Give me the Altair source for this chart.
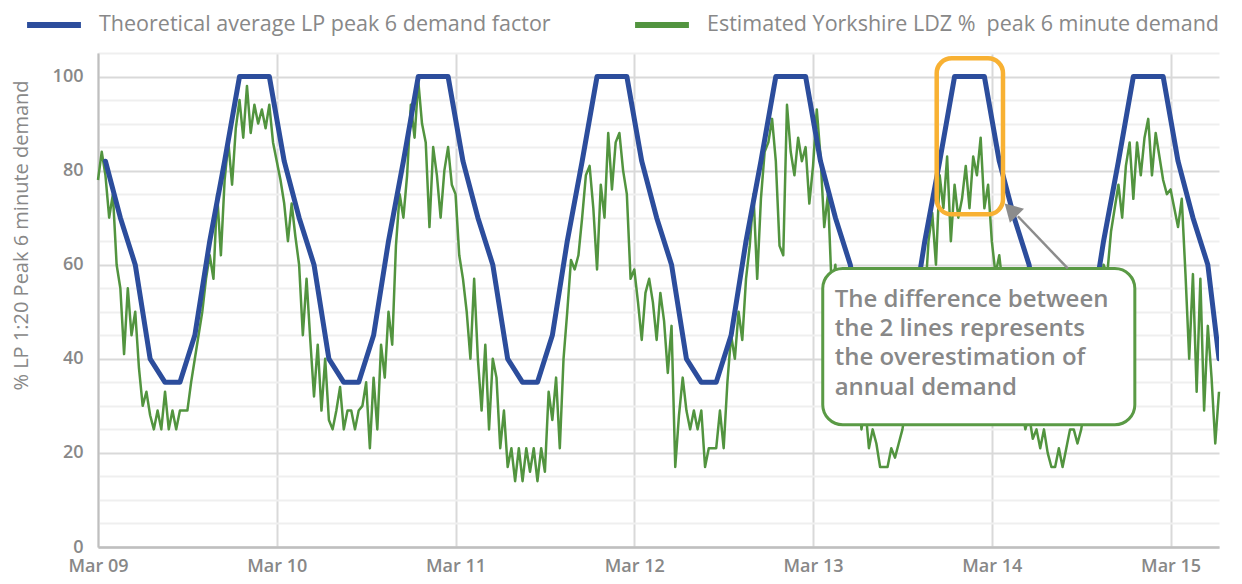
import altair as alt
import pandas as pd

# ---------------- data ----------------
START = pd.Timestamp("2018-03-09 00:00")

series_names = [
    "Theoretical average LP peak 6 demand factor",
    "Estimated Yorkshire LDZ %\u00a0\u00a0peak 6 minute demand",
]
series_colors = ["#2C4D9C", "#52943F"]

# theoretical profile: hours after Mar 09 00:00
blue_hours = [1, 3, 5, 7, 9, 11, 13, 15, 17, 19, 21, 23,
              25, 27, 29, 31, 33, 35, 37, 39, 41, 43, 45, 47,
              49, 51, 53, 55, 57, 59, 61, 63, 65, 67, 69, 71,
              73, 75, 77, 79, 81, 83, 85, 87, 89, 91, 93, 95,
              97, 99, 101, 103, 105, 107, 109, 111, 113, 115, 117, 119,
              121, 123, 125, 127, 129, 131, 133, 135, 137, 139, 141, 143,
              145, 147, 149, 150.5]
blue_values = [82, 70, 60, 40, 35, 35, 45, 65, 82, 100, 100, 100,
               82, 70, 60, 40, 35, 35, 45, 65, 82, 100, 100, 100,
               82, 70, 60, 40, 35, 35, 45, 65, 82, 100, 100, 100,
               82, 70, 60, 40, 35, 35, 45, 65, 82, 100, 100, 100,
               82, 70, 60, 40, 35, 35, 45, 65, 82, 100, 100, 100,
               82, 70, 60, 40, 35, 35, 45, 65, 82, 100, 100, 100,
               82, 70, 60, 40]

# estimated demand, half-hourly from Mar 09 00:00
green_mar09 = [78, 84, 79, 70, 75, 60, 55, 41, 55, 45, 50, 38,
               30, 33, 28, 25, 29, 25, 33, 25, 29, 25, 29, 29,
               29, 35, 40, 45, 50, 57, 62, 57, 75, 62, 78, 86,
               77, 89, 95, 87, 98, 88, 94, 90, 93, 89, 94, 86]
green_mar10 = [82, 78, 73, 65, 73, 66, 60, 45, 57, 44, 32, 43,
               29, 40, 27, 25, 29, 34, 25, 29, 29, 25, 29, 30,
               35, 21, 36, 25, 43, 36, 50, 43, 64, 75, 70, 79,
               94, 87, 99, 90, 86, 68, 85, 79, 70, 80, 85, 77]
green_mar11 = [75, 62, 57, 50, 40, 57, 40, 29, 43, 25, 40, 36,
               21, 29, 17, 21, 14, 21, 14, 21, 16, 21, 14, 21,
               16, 33, 27, 36, 21, 40, 50, 61, 59, 62, 70, 79,
               81, 72, 59, 77, 70, 88, 76, 86, 88, 80, 75, 57]
green_mar12 = [59, 52, 44, 54, 57, 52, 44, 54, 48, 37, 47, 17,
               28, 36, 29, 25, 29, 25, 29, 17, 21, 21, 21, 29,
               21, 35, 45, 40, 50, 44, 57, 64, 75, 57, 74, 84,
               86, 91, 82, 64, 62, 94, 84, 79, 87, 82, 85, 73]
green_mar13 = [81, 93, 83, 68, 75, 55, 60, 45, 50, 38, 42, 30,
               35, 25, 30, 21, 25, 22, 17, 17, 17, 21, 19, 22,
               25, 30, 40, 48, 55, 60, 52, 65, 71, 60, 79, 72,
               83, 65, 77, 70, 74, 81, 72, 83, 79, 87, 72, 77]
green_mar14 = [65, 58, 62, 55, 50, 45, 40, 35, 30, 25, 28, 23,
               25, 21, 25, 20, 17, 17, 21, 17, 21, 25, 25, 22,
               25, 30, 35, 45, 55, 50, 60, 58, 67, 72, 77, 70,
               81, 86, 74, 86, 79, 87, 91, 79, 88, 83, 78, 75]
green_mar15 = [76, 72, 68, 74, 58, 40, 58, 33, 57, 29, 47, 36, 22, 33]

# annotation positions (hours after Mar 09 00:00, value units)
note_box_hours = [97.3, 139.2]
note_box_values = [59.2, 26.0]
note_text_hour = 98.9
note_text_values = [51.1, 44.9, 38.7, 32.4]
note_lines = ["The difference between", "the 2 lines represents",
              "the overestimation of", "annual demand"]
highlight_hours = [112.6, 121.5]
highlight_values = [103.9, 70.7]
arrow_hours = [130.2, 123.5]
arrow_values = [59.2, 70.3]
arrow_head_hour = 122.55
arrow_head_value = 71.7

# ---------------- frames ----------------
green_values = (green_mar09 + green_mar10 + green_mar11 + green_mar12 +
                green_mar13 + green_mar14 + green_mar15)
green_times = pd.date_range(START, periods=len(green_values), freq="30min")
df_green = pd.DataFrame({"time": green_times, "value": green_values,
                         "series": series_names[1]})
df_blue = pd.DataFrame({"time": [START + pd.Timedelta(hours=h) for h in blue_hours],
                        "value": blue_values, "series": series_names[0]})


def t(h):
    return START + pd.Timedelta(hours=h)


df_box = pd.DataFrame({"t1": [t(note_box_hours[0])], "t2": [t(note_box_hours[1])],
                       "v1": [note_box_values[0]], "v2": [note_box_values[1]]})
df_text = pd.DataFrame({"time": [t(note_text_hour)] * len(note_lines),
                        "value": note_text_values, "label": note_lines})
df_hl = pd.DataFrame({"t1": [t(highlight_hours[0])], "t2": [t(highlight_hours[1])],
                      "v1": [highlight_values[0]], "v2": [highlight_values[1]]})
df_arrow = pd.DataFrame({"time": [t(h) for h in arrow_hours], "value": arrow_values,
                         "order": [0, 1]})
df_head = pd.DataFrame({"time": [t(arrow_head_hour)], "value": [arrow_head_value]})

# ---------------- scales / axes ----------------
FONT = "Open Sans"
GRAY = "#888888"

x_scale = alt.Scale(domain=[alt.DateTime(year=2018, month=3, date=9, hours=0),
                            alt.DateTime(year=2018, month=3, date=15, hours=6, minutes=30)])
y_scale = alt.Scale(domain=[0, 105], nice=False)

x_axis = alt.Axis(title=None, format="%b %d", tickCount={"interval": "day", "step": 1},
                  labelFont=FONT, labelFontSize=18, labelFontWeight=600, labelColor=GRAY,
                  labelPadding=10, labelFlush=False, labelOverlap=False,
                  ticks=False, grid=True, gridColor="#d9d9d9", gridWidth=2,
                  domainColor="#bfbfbf", domainWidth=2.5)
y_axis = alt.Axis(title="% LP 1:20 Peak 6 minute demand",
                  values=list(range(0, 106, 5)),
                  labelExpr="datum.value % 20 === 0 ? datum.label : ''",
                  labelFont=FONT, labelFontSize=18, labelFontWeight=600, labelColor=GRAY,
                  labelPadding=15, ticks=False, grid=True,
                  gridColor={"condition": {"test": "datum.value % 20 === 0", "value": "#d9d9d9"},
                             "value": "#efefef"},
                  gridWidth=2, domainColor="#bfbfbf", domainWidth=2,
                  titleFont=FONT, titleFontSize=20, titleFontWeight="normal",
                  titleColor=GRAY, titleAngle=270, titleAlign="center",
                  titleBaseline="middle", titleX=-77, titleY=182)

X = alt.X("time:T", scale=x_scale, axis=x_axis)
Y = alt.Y("value:Q", scale=y_scale, axis=y_axis)

color = alt.Color("series:N",
                  scale=alt.Scale(domain=series_names, range=series_colors),
                  legend=alt.Legend(orient="none", legendX=-74, legendY=-58,
                                    direction="horizontal", title=None,
                                    symbolType="stroke", symbolSize=2900,
                                    symbolStrokeWidth=6, labelFont=FONT,
                                    labelFontSize=21.5, labelColor=GRAY,
                                    labelOffset=15, columnPadding=72,
                                    labelLimit=800))

green = alt.Chart(df_green).mark_line(strokeWidth=2.5, strokeJoin="round").encode(
    x=X, y=Y, color=color)
blue = alt.Chart(df_blue).mark_line(strokeWidth=5, strokeJoin="round",
                                    strokeCap="round", clip=True).encode(
    x=X, y=Y, color=color)

box = alt.Chart(df_box).mark_rect(fill="white", stroke="#5A9A45", strokeWidth=3,
                                  cornerRadius=20).encode(
    x=alt.X("t1:T", scale=x_scale, axis=x_axis), x2="t2:T",
    y=alt.Y("v1:Q", scale=y_scale, axis=y_axis), y2="v2:Q")
text = alt.Chart(df_text).mark_text(align="left", baseline="alphabetic", font=FONT,
                                    fontSize=24, fontWeight=600, color=GRAY).encode(
    x=X, y=Y, text="label:N")
hl = alt.Chart(df_hl).mark_rect(fillOpacity=0, fill="white", stroke="#F8B133",
                                strokeWidth=4.5, cornerRadius=15).encode(
    x=alt.X("t1:T", scale=x_scale, axis=x_axis), x2="t2:T",
    y=alt.Y("v1:Q", scale=y_scale, axis=y_axis), y2="v2:Q")
arrow = alt.Chart(df_arrow).mark_line(color="#8c8c8c", strokeWidth=2.5).encode(
    x=X, y=Y, order="order:Q")
head = alt.Chart(df_head).mark_point(shape="triangle-up", filled=True, color="#8c8c8c",
                                     size=400, angle=315, opacity=1).encode(x=X, y=Y)

chart = alt.layer(green, blue, box, text, hl, arrow, head).properties(
    width=1121, height=494,
    padding={"left": 90, "top": 45, "right": 15, "bottom": 29},
    autosize=alt.AutoSizeParams(type="none"),
    background="white",
).configure_view(stroke=None)

chart.save("out.html", embed_options={"renderer": "svg", "actions": False})
